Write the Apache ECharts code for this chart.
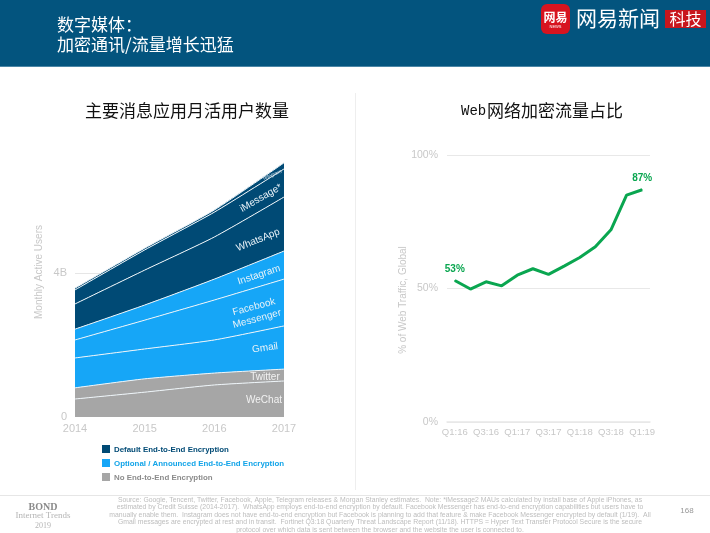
<!DOCTYPE html>
<html lang="zh-cn">
<head>
    <meta charset="utf-8" />
    <script src="https://cdn.jsdelivr.net/npm/echarts@6/dist/echarts.min.js"></script>
    <title>encrypted_messaging</title>
    <style>body { margin: 0; background: #fff; }</style>
</head>

<body>
<div id="main" style="width:710px; height:533px;"></div>
<script type="text/javascript">
    // left chart, billions of users, stacked from the bottom up
    const years = ['2014', '2015', '2016', '2017'];
    const wechat = [0.5, 0.69, 0.89, 1.0];
    const twitter = [0.31, 0.37, 0.33, 0.33];
    const gmail = [0.83, 0.83, 0.92, 1.2];
    const facebook = [0.5, 0.8, 1.11, 1.3];
    const instagram = [0.3, 0.42, 0.58, 0.78];
    const whatsapp = [0.7, 0.97, 1.17, 1.5];
    const imessage = [0.39, 0.56, 0.69, 0.78];
    const telegram = [0.05, 0.05, 0.06, 0.17];

    // right chart, % of web traffic
    const quarters = ['Q1:16', 'Q2:16', 'Q3:16', 'Q4:16', 'Q1:17', 'Q2:17', 'Q3:17',
        'Q4:17', 'Q1:18', 'Q2:18', 'Q3:18', 'Q4:18', 'Q1:19'];
    const encrypted = [53, 49.8, 52.5, 51, 55, 57.4, 55.3, 58.4, 61.6, 65.6, 72, 85, 87];

    const DARK = '#004a75', LIGHT = '#16a6f7', GRAY = '#a6a6a6', GREEN = '#0aa650';
    const LATIN = '"Liberation Sans", Arial, sans-serif';
    const CJK = '"Noto Sans CJK SC", sans-serif';
    const AXIS_TEXT = '#c8c8c8';

    const footnote = [
        'Source: Google, Tencent, Twitter, Facebook, Apple, Telegram releases & Morgan Stanley estimates.  Note: *iMessage2 MAUs calculated by install base of Apple iPhones, as',
        'estimated by Credit Suisse (2014-2017).  WhatsApp employs end-to-end encryption by default. Facebook Messenger has end-to-end encryption capabilities but users have to',
        'manually enable them.  Instagram does not have end-to-end encryption but Facebook is planning to add that feature & make Facebook Messenger encrypted by default (1/19).  All',
        'Gmail messages are encrypted at rest and in transit.  Fortinet Q3:18 Quarterly Threat Landscape Report (11/18). HTTPS = Hyper Text Transfer Protocol Secure is the secure',
        'protocol over which data is sent between the browser and the website the user is connected to.'
    ];

    function text(str, x, y, size, fill, extra) {
        return {
            type: 'text',
            z: 10,
            rotation: extra && extra.rot ? extra.rot * Math.PI / 180 : 0,
            x: x,
            y: y,
            style: {
                text: str,
                fill: fill,
                font: (extra && extra.weight || 'normal') + ' ' + size + 'px ' + (extra && extra.family || LATIN),
                textAlign: extra && extra.align || 'center',
                textVerticalAlign: 'middle'
            }
        };
    }

    function rect(x, y, w, h, fill, r) {
        return { type: 'rect', z: 9, shape: { x: x, y: y, width: w, height: h, r: r || 0 }, style: { fill: fill } };
    }

    function band(name, values, color) {
        return {
            name: name,
            type: 'line',
            stack: 'users',
            smooth: 0.2,
            symbol: 'none',
            data: values,
            xAxisIndex: 0,
            yAxisIndex: 0,
            lineStyle: { color: '#eef5f9', width: 1 },
            areaStyle: { color: color, opacity: 1 }
        };
    }

    const graphics = [
        rect(0, 0, 710, 66, '#03547e'),
        rect(0, 66, 710, 1, '#4b86a6'),
        text('数字媒体：', 57, 25, 17, '#fff', { align: 'left', family: CJK }),
        text('加密通讯/流量增长迅猛', 57, 45, 17, '#fff', { align: 'left', family: CJK }),
        rect(541, 4, 29, 30, '#d7141f', 6),
        text('网易', 555.5, 17, 12, '#fff', { family: CJK, weight: 'bold' }),
        text('NEWS', 555.5, 27, 4, '#fff'),
        text('网易新闻', 618, 18, 21, '#fff', { family: CJK }),
        rect(665, 10, 41, 18, '#c8161d'),
        text('科技', 685.5, 19, 16, '#fff', { family: CJK }),

        text('主要消息应用月活用户数量', 187, 111, 17, '#111', { family: CJK }),
        text('Web', 461, 111, 14, '#111', { align: 'left', family: '"Liberation Mono", monospace' }),
        text('网络加密流量占比', 487, 111, 17, '#111', { align: 'left', family: CJK }),
        rect(355, 93, 1, 397, '#eeeeee'),

        text('Monthly Active Users', 39, 272, 10, AXIS_TEXT, { rot: 90 }),
        text('% of Web Traffic, Global', 403, 300, 10, AXIS_TEXT, { rot: 90 }),

        text('iMessage*', 261, 198, 10, '#e8f2f8', { rot: 30 }),
        text('WhatsApp', 258, 240, 10, '#e8f2f8', { rot: 22 }),
        text('Instagram', 259, 275, 10, '#e8f2f8', { rot: 18 }),
        text('Facebook', 254, 307, 10, '#e8f2f8', { rot: 15 }),
        text('Messenger', 257, 319, 10, '#e8f2f8', { rot: 15 }),
        text('Gmail', 265, 348, 10, '#e8f2f8', { rot: 8 }),
        text('Twitter', 265, 377, 10, '#f2f2f2'),
        text('WeChat', 264, 400, 10, '#f2f2f2'),
        text('Telegram', 272, 175, 5, '#cfe0ea', { rot: 22 }),

        rect(102, 445, 8, 8, DARK),
        rect(102, 459, 8, 8, LIGHT),
        rect(102, 473, 8, 8, GRAY),
        text('Default End-to-End Encryption', 114, 449.5, 7.9, DARK, { align: 'left', weight: 'bold' }),
        text('Optional / Announced End-to-End Encryption', 114, 463.5, 7.9, '#12a4e8', { align: 'left', weight: 'bold' }),
        text('No End-to-End Encryption', 114, 477.5, 7.9, '#8c8c8c', { align: 'left', weight: 'bold' }),

        rect(0, 495, 710, 1, '#e6e6e6'),
        text('BOND', 43, 507, 10, '#8a8a8a', { family: '"Liberation Serif", serif', weight: 'bold' }),
        text('Internet Trends', 43, 516, 9, '#b5b5b5', { family: '"Liberation Serif", serif' }),
        text('2019', 43, 526, 8, '#b5b5b5', { family: '"Liberation Serif", serif' }),
        text('168', 687, 511, 8, '#999')
    ];
    footnote.forEach(function (line, i) {
        graphics.push(text(line, 380, 500 + i * 7.5, 6.85, '#bdbdbd'));
    });

    const myChart = echarts.init(document.getElementById('main'));
    const option = {
        animation: false,
        backgroundColor: '#fff',
        textStyle: { fontFamily: LATIN },
        graphic: graphics,
        grid: [
            { left: 75, width: 209, top: 129, height: 288 },
            { left: 447, width: 203, top: 155, height: 267 }
        ],
        xAxis: [{
            type: 'category',
            gridIndex: 0,
            data: years,
            boundaryGap: false,
            axisTick: { show: false },
            axisLine: { show: false },
            axisLabel: { color: AXIS_TEXT, fontSize: 11, margin: 6, hideOverlap: false }
        }, {
            type: 'category',
            gridIndex: 1,
            data: quarters,
            boundaryGap: true,
            axisTick: { show: false },
            axisLine: { lineStyle: { color: '#e8e8e8', width: 1.5 } },
            axisLabel: { color: AXIS_TEXT, fontSize: 9.5, margin: 5, interval: 1 }
        }],
        yAxis: [{
            type: 'value',
            gridIndex: 0,
            min: 0,
            max: 8,
            interval: 4,
            axisLine: { show: false },
            axisTick: { show: false },
            axisLabel: {
                color: AXIS_TEXT,
                fontSize: 11,
                margin: 8,
                showMaxLabel: false,
                formatter: function (v) { return v === 4 ? '4B' : v === 0 ? '0' : ''; }
            },
            splitLine: { showMinLine: false, showMaxLine: false, lineStyle: { color: '#e6e6e6' } }
        }, {
            type: 'value',
            gridIndex: 1,
            min: 0,
            max: 100,
            interval: 50,
            axisLine: { show: false },
            axisTick: { show: false },
            axisLabel: { color: AXIS_TEXT, fontSize: 10.5, margin: 9, formatter: '{value}%' },
            splitLine: { lineStyle: { color: '#e8e8e8' } }
        }],
        series: [
            band('WeChat', wechat, GRAY),
            band('Twitter', twitter, GRAY),
            band('Gmail', gmail, LIGHT),
            band('Facebook Messenger', facebook, LIGHT),
            band('Instagram', instagram, LIGHT),
            band('WhatsApp', whatsapp, DARK),
            band('iMessage', imessage, DARK),
            band('Telegram', telegram, DARK),
            {
                name: 'Encrypted traffic',
                type: 'line',
                xAxisIndex: 1,
                yAxisIndex: 1,
                symbol: 'circle',
                symbolSize: 1,
                showAllSymbol: true,
                itemStyle: { color: GREEN },
                data: encrypted,
                lineStyle: { color: GREEN, width: 3 },
                label: {
                    show: true,
                    position: 'top',
                    distance: 6,
                    color: GREEN,
                    fontSize: 10,
                    fontWeight: 'bold',
                    formatter: function (p) {
                        return p.dataIndex === 0 || p.dataIndex === encrypted.length - 1 ? p.value + '%' : '';
                    }
                }
            }
        ]
    };
    myChart.setOption(option);
</script>
</body>
</html>
